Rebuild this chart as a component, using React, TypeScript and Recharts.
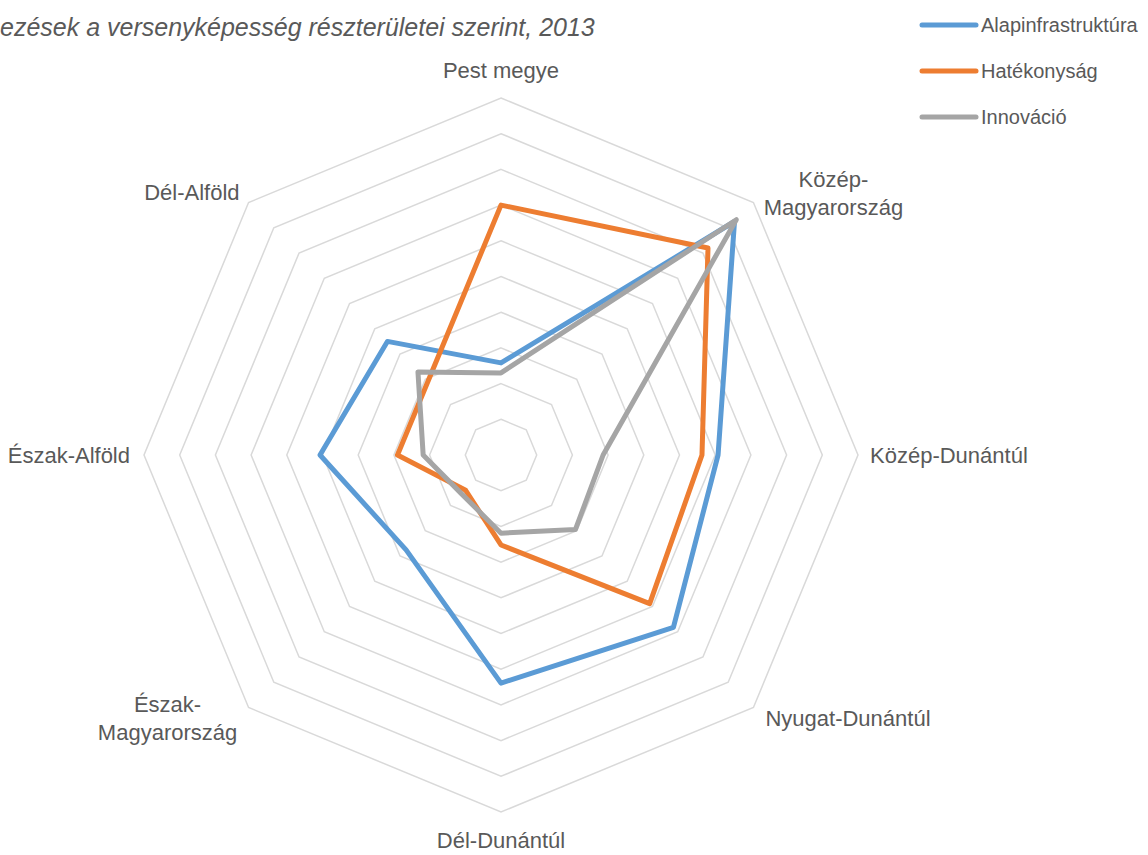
import { RadarChart, Radar, PolarGrid, PolarAngleAxis, PolarRadiusAxis, Legend } from 'recharts';

// ── Data ────────────────────────────────────────────────────────
const REGIONS = [
  'Pest megye',
  'Közép-Magyarország',
  'Közép-Dunántúl',
  'Nyugat-Dunántúl',
  'Dél-Dunántúl',
  'Észak-Magyarország',
  'Észak-Alföld',
  'Dél-Alföld',
];
const ALAPINFRASTRUKTURA = [25.8, 92.5, 60.8, 68.3, 63.9, 37.6, 50.7, 45];
const HATEKONYSAG        = [70, 82, 56.3, 58.9, 25.2, 14, 29, 29];
const INNOVACIO          = [23, 93.2, 28.6, 29.5, 21.9, 15.5, 21.8, 32.9];

const TITLE = 'ezések a versenyképesség részterületei szerint, 2013';

const COLORS = {
  alap:  '#5b9bd5',
  hatek: '#ed7d31',
  innov: '#a5a5a5',
};

const FONT = '"Liberation Sans", Arial, sans-serif';
const TEXT = '#595959';

const CX = 501;
const CY = 455;
const R  = 357;

// label placement relative to the outer grid vertex
const LABEL_LAYOUT: Record<string, { dx: number; dy: number; anchor: string; lines?: string[] }> = {
  'Pest megye':         { dx: 0,   dy: -28, anchor: 'middle' },
  'Közép-Magyarország': { dx: 80,  dy: -9,  anchor: 'middle', lines: ['Közép-', 'Magyarország'] },
  'Közép-Dunántúl':     { dx: 12,  dy: 0,   anchor: 'start' },
  'Nyugat-Dunántúl':    { dx: 12,  dy: 11,  anchor: 'start' },
  'Dél-Dunántúl':       { dx: 0,   dy: 28,  anchor: 'middle' },
  'Észak-Magyarország': { dx: -81, dy: 11,  anchor: 'middle', lines: ['Észak-', 'Magyarország'] },
  'Észak-Alföld':       { dx: -14, dy: 0,   anchor: 'end' },
  'Dél-Alföld':         { dx: -9,  dy: -10, anchor: 'end' },
};

const data = REGIONS.map((region, i) => ({
  region,
  alap: ALAPINFRASTRUKTURA[i],
  hatek: HATEKONYSAG[i],
  innov: INNOVACIO[i],
}));

function RegionTick(props: any) {
  const { payload } = props;
  const name = payload.value as string;
  const lay = LABEL_LAYOUT[name] || { dx: 0, dy: 0, anchor: 'middle' };
  const rad = (-payload.coordinate * Math.PI) / 180;
  const vx = CX + R * Math.cos(rad);
  const vy = CY + R * Math.sin(rad);
  const lines = lay.lines || [name];
  const lh = 28;
  const y0 = vy + lay.dy - ((lines.length - 1) * lh) / 2;
  return (
    <text
      x={vx + lay.dx}
      y={y0}
      textAnchor={lay.anchor as any}
      fill={TEXT}
      fontSize={22}
      fontFamily={FONT}
    >
      {lines.map((l, i) => (
        <tspan key={i} x={vx + lay.dx} y={y0 + i * lh} dominantBaseline="central">
          {l}
        </tspan>
      ))}
    </text>
  );
}

function LegendContent({ payload }: any) {
  return (
    <div>
      {(payload || []).map((p: any) => (
        <div key={p.value} style={{ display: 'flex', alignItems: 'center', height: 46 }}>
          <svg width={62} height={10}>
            <line x1={4} y1={5} x2={58} y2={5} stroke={p.color} strokeWidth={5} strokeLinecap="round" />
          </svg>
          <span style={{ fontSize: 20, color: TEXT, fontFamily: FONT, marginLeft: 1 }}>{p.value}</span>
        </div>
      ))}
    </div>
  );
}

export default function App() {
  return (
    <div style={{ position: 'absolute', left: 0, top: 0, width: 1148, height: 855, background: '#fff', overflow: 'hidden' }}>
      <div
        style={{
          position: 'absolute',
          left: 0,
          top: 12,
          fontFamily: FONT,
          fontStyle: 'italic',
          fontSize: 25,
          color: TEXT,
          whiteSpace: 'nowrap',
          lineHeight: '30px',
        }}
      >
        {TITLE}
      </div>

      <RadarChart width={1148} height={855} data={data} cx={CX} cy={CY} outerRadius={R} startAngle={90} endAngle={-270}>
        <PolarGrid gridType="polygon" radialLines={false} stroke="#d9d9d9" strokeWidth={1.5} />
        <PolarRadiusAxis domain={[0, 100]} tickCount={11} tick={false} axisLine={false} />
        <PolarAngleAxis dataKey="region" tick={<RegionTick />} tickLine={false} axisLine={false} />
        <Radar name="Alapinfrastruktúra" dataKey="alap" stroke={COLORS.alap} strokeWidth={5} fill={COLORS.alap} fillOpacity={0} strokeLinejoin="round" dot={false} isAnimationActive={false} />
        <Radar name="Hatékonyság" dataKey="hatek" stroke={COLORS.hatek} strokeWidth={5} fill={COLORS.hatek} fillOpacity={0} strokeLinejoin="round" dot={false} isAnimationActive={false} />
        <Radar name="Innováció" dataKey="innov" stroke={COLORS.innov} strokeWidth={5} fill={COLORS.innov} fillOpacity={0} strokeLinejoin="round" dot={false} isAnimationActive={false} />
        <Legend
          layout="vertical"
          verticalAlign="top"
          align="right"
          content={<LegendContent />}
          wrapperStyle={{ position: 'absolute', left: 918, top: 2, width: 230 }}
        />
      </RadarChart>
    </div>
  );
}
